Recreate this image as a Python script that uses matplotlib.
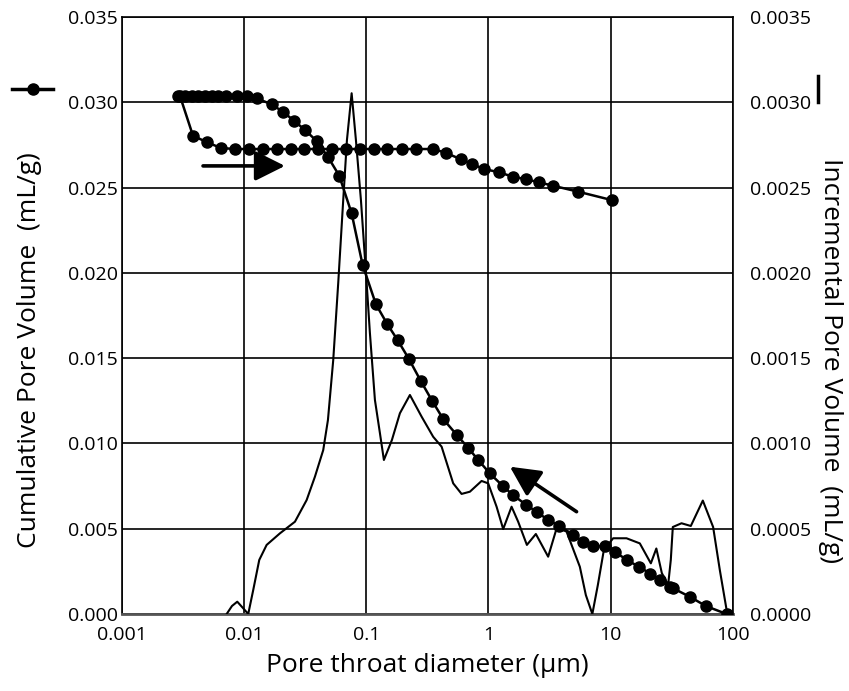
import matplotlib
matplotlib.use("Agg")
import matplotlib.pyplot as plt
from matplotlib.lines import Line2D
from matplotlib.ticker import FixedLocator, FixedFormatter

plt.rcParams['font.family'] = ['Open Sans', 'DejaVu Sans']

# ---- data ----
# Intrusion branch (cumulative pore volume, mL/g) vs pore throat diameter (um)
intr_d = [0.002886, 0.003293, 0.003736, 0.004229, 0.004800, 0.005443, 0.006163,
          0.007125, 0.008815, 0.01052, 0.01270, 0.01684, 0.02096, 0.02564,
          0.03153, 0.03930, 0.04890, 0.06014, 0.07598, 0.09346, 0.1200, 0.1485,
          0.1806, 0.2235, 0.2785, 0.3465, 0.4262, 0.5515, 0.6786, 0.8237, 1.027,
          1.311, 1.583, 2.041, 2.488, 3.077, 3.800, 4.898, 5.947, 7.140, 8.950,
          10.90, 13.54, 16.98, 21.08, 25.21, 30.43, 32.50, 44.35, 59.94, 88.49]
intr_v = [0.03037, 0.03037, 0.03037, 0.03037, 0.03037, 0.03037, 0.03037,
          0.03037, 0.03037, 0.03034, 0.03023, 0.02988, 0.02943, 0.02892,
          0.02838, 0.02773, 0.02677, 0.02570, 0.02349, 0.02046, 0.01816, 0.01700,
          0.01606, 0.01495, 0.01368, 0.01249, 0.01143, 0.01049, 0.00976, 0.00903,
          0.00824, 0.00750, 0.00698, 0.00639, 0.00598, 0.00551, 0.00516, 0.00466,
          0.00424, 0.00399, 0.00396, 0.00363, 0.00317, 0.00277, 0.00237, 0.00199,
          0.00161, 0.00150, 0.00101, 0.00047, 0.0]

# Extrusion branch
extr_d = [0.002997, 0.003828, 0.005011, 0.006483, 0.008440, 0.01099, 0.01430,
          0.01861, 0.02409, 0.03094, 0.04028, 0.05243, 0.06823, 0.08966, 0.1167,
          0.1485, 0.1969, 0.2535, 0.3530, 0.4458, 0.5947, 0.7358, 0.9171, 1.216,
          1.574, 2.022, 2.583, 3.362, 5.412, 10.15]
extr_v = [0.03037, 0.02804, 0.02765, 0.02732, 0.02726, 0.02726, 0.02726,
          0.02726, 0.02726, 0.02726, 0.02726, 0.02726, 0.02726, 0.02726, 0.02726,
          0.02726, 0.02726, 0.02726, 0.02726, 0.02704, 0.02666, 0.02638, 0.02609,
          0.02590, 0.02564, 0.02549, 0.02531, 0.02511, 0.02476, 0.02427]

# Incremental pore volume (mL/g)
inc_d = [0.007219, 0.007977, 0.008815, 0.009813, 0.01084, 0.01191, 0.01334,
         0.01533, 0.01970, 0.02612, 0.03256, 0.03806, 0.04450, 0.04862, 0.05373,
         0.05903, 0.06485, 0.06956, 0.07598, 0.08236, 0.09051, 0.1008, 0.1072,
         0.1178, 0.1294, 0.1395, 0.1622, 0.1886, 0.2277, 0.2838, 0.3530, 0.4136,
         0.5145, 0.6026, 0.7046, 0.8783, 0.9943, 1.165, 1.319, 1.545, 1.749,
         2.061, 2.441, 3.077, 3.625, 4.351, 5.588, 6.257, 7.071, 7.845, 8.783,
         10.46, 13.46, 17.29, 21.28, 23.60, 26.17, 29.47, 30.99, 32.19, 37.92,
         45.17, 56.64, 68.77, 78.01, 89.82]
inc_v = [0.0, 0.0000469, 0.0000721, 0.0000352, 0.0, 0.000141, 0.000317,
         0.000405, 0.000473, 0.000541, 0.000668, 0.000805, 0.000961, 0.001137,
         0.001489, 0.001941, 0.002427, 0.002779, 0.003053, 0.002779, 0.002427,
         0.001941, 0.001647, 0.001255, 0.001061, 0.000903, 0.001020, 0.001177,
         0.001284, 0.001157, 0.001039, 0.000981, 0.000766, 0.000704, 0.000717,
         0.000780, 0.000766, 0.000629, 0.000498, 0.000629, 0.000541, 0.000405,
         0.000469, 0.000336, 0.000507, 0.000483, 0.000277, 0.000111, 0.0,
         0.000170, 0.000375, 0.000444, 0.000444, 0.000414, 0.000297, 0.000384,
         0.000240, 0.000170, 0.000317, 0.000510, 0.000532, 0.000516, 0.000665,
         0.000510, 0.000258, 0.0]

x_ticks = [0.001, 0.01, 0.1, 1, 10, 100]
x_labels = ["0.001", "0.01", "0.1", "1", "10", "100"]
yl_ticks = [0.000, 0.005, 0.010, 0.015, 0.020, 0.025, 0.030, 0.035]
yl_labels = ["0.000", "0.005", "0.010", "0.015", "0.020", "0.025", "0.030", "0.035"]
yr_ticks = [0.0000, 0.0005, 0.0010, 0.0015, 0.0020, 0.0025, 0.0030, 0.0035]
yr_labels = ["0.0000", "0.0005", "0.0010", "0.0015", "0.0020", "0.0025", "0.0030", "0.0035"]

# ---- figure ----
W, H = 849, 691
fig = plt.figure(figsize=(W / 100, H / 100), dpi=100)
L, R, T, B = 121.7, 733, 17, 614
ax = fig.add_axes([L / W, 1 - B / H, (R - L) / W, (B - T) / H])
ax.set_xscale('log')
ax.set_xlim(0.001, 100)
ax.set_ylim(0, 0.035)
ax.xaxis.set_major_locator(FixedLocator(x_ticks))
ax.xaxis.set_major_formatter(FixedFormatter(x_labels))
ax.xaxis.set_minor_locator(FixedLocator([]))
ax.yaxis.set_major_locator(FixedLocator(yl_ticks))
ax.yaxis.set_major_formatter(FixedFormatter(yl_labels))
ax.tick_params(axis='both', length=0, labelsize=14, colors='black')
ax.tick_params(axis='x', pad=9)
ax.tick_params(axis='y', pad=3)
ax.grid(True, color='black', lw=1.2)
ax.set_axisbelow(True)
for s in ax.spines.values():
    s.set_color('black')
    s.set_linewidth(1.2)
ax.spines['bottom'].set_color('#555555')
ax.spines['bottom'].set_linewidth(2)

ax.plot(intr_d, intr_v, color='black', lw=1.8, marker='o', ms=8, zorder=3)
ax.plot(extr_d, extr_v, color='black', lw=1.8, marker='o', ms=8, zorder=3)

ax2 = ax.twinx()
ax2.set_ylim(0, 0.0035)
ax2.yaxis.set_major_locator(FixedLocator(yr_ticks))
ax2.yaxis.set_major_formatter(FixedFormatter(yr_labels))
ax2.tick_params(axis='y', length=0, labelsize=14, pad=12, colors='black')
for s in ax2.spines.values():
    s.set_visible(False)
ax2.plot(inc_d, inc_v, color='black', lw=1.5, zorder=2)

# arrows
arrow_style = dict(arrowstyle='-|>,head_length=1.3,head_width=0.65',
                   color='black', lw=2.6, mutation_scale=14,
                   shrinkA=0, shrinkB=0)
ax.annotate('', xy=(0.02164, 0.02627), xytext=(0.004625, 0.02627),
            arrowprops=arrow_style)
ax.annotate('', xy=(1.496, 0.008636), xytext=(5.253, 0.005998),
            arrowprops=arrow_style)

# labels
fig.text(427 / W, 1 - 665 / H, "Pore throat diameter (\u00b5m)", ha='center', va='center',
         fontsize=19)
fig.text(30 / W, 1 - 350 / H, "Cumulative Pore Volume  (mL/g)", rotation=90,
         ha='center', va='center', fontsize=19)
fig.text(830 / W, 1 - 360 / H, "Incremental Pore Volume  (mL/g)", rotation=-90,
         ha='center', va='center', fontsize=19)

# legend glyphs beside the axis titles
fig.add_artist(Line2D([12 / W, 53 / W], [1 - 89 / H, 1 - 89 / H], color='black', lw=2.5,
                      transform=fig.transFigure))
fig.add_artist(Line2D([32.5 / W], [1 - 89 / H], color='black', marker='o', ms=8,
                      transform=fig.transFigure))
fig.add_artist(Line2D([818 / W, 818 / W], [1 - 76 / H, 1 - 102 / H], color='black', lw=2.5,
                      transform=fig.transFigure))

fig.savefig("out.png", dpi=100)
